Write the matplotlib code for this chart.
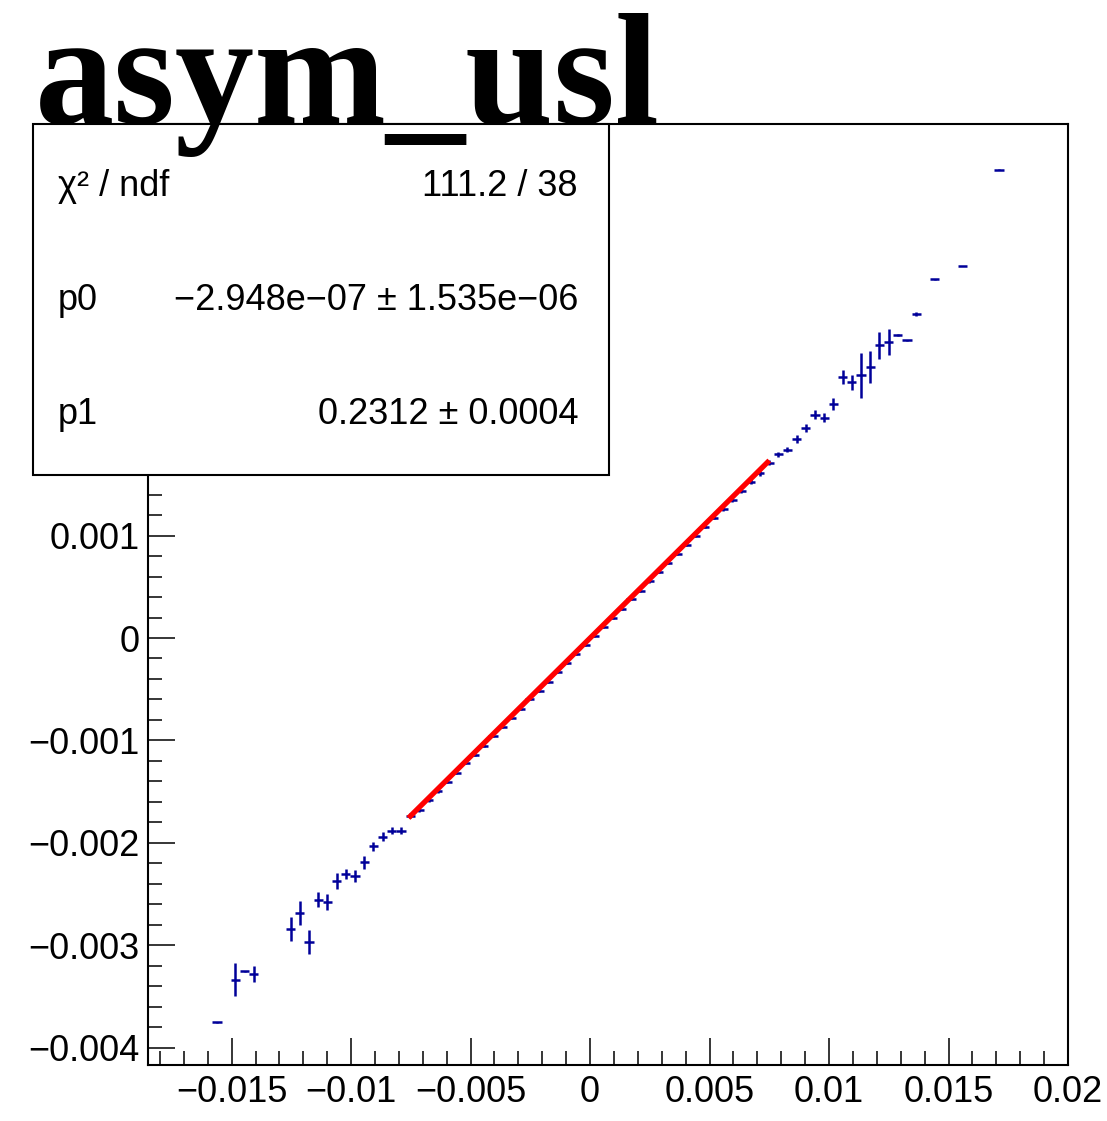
import matplotlib
matplotlib.use("Agg")
import matplotlib.pyplot as plt
from matplotlib.patches import Rectangle
from matplotlib.ticker import MultipleLocator, FuncFormatter

# profile bins (bin centres), mean values and errors
bin_x = [-0.0156125, -0.0148425, -0.0144575, -0.0140725, -0.0125325, -0.0121475,
         -0.0117625, -0.0113775, -0.0109925, -0.0106075, -0.0102225, -0.0098375,
         -0.0094525, -0.0090675, -0.0086825, -0.0082975, -0.0079125,
         -0.0075275, -0.0071425, -0.0067575, -0.0063725, -0.0059875, -0.0056025,
         -0.0052175, -0.0048325, -0.0044475, -0.0040625, -0.0036775, -0.0032925,
         -0.0029075, -0.0025225, -0.0021375, -0.0017525, -0.0013675, -0.0009825,
         -0.0005975, -0.0002125, 0.0001725, 0.0005575, 0.0009425, 0.0013275,
         0.0017125, 0.0020975, 0.0024825, 0.0028675, 0.0032525, 0.0036375,
         0.0040225, 0.0044075, 0.0047925, 0.0051775, 0.0055625, 0.0059475,
         0.0063325, 0.0067175, 0.0071025, 0.0074875,
         0.0078725, 0.0082575, 0.0086425, 0.0090275, 0.0094125, 0.0097975,
         0.0101825, 0.0105675, 0.0109525, 0.0113375, 0.0117225, 0.0121075,
         0.0124925, 0.0128775, 0.0132625, 0.0136475, 0.0144175, 0.0155725,
         0.0171125]
prof_y = [-0.003753, -0.003337, -0.003256, -0.003281, -0.002842, -0.002686,
          -0.002973, -0.002556, -0.002582, -0.002371, -0.002305, -0.002322,
          -0.002192, -0.002036, -0.001939, -0.001880, -0.001880,
          -0.001735, -0.001675, -0.001585, -0.001497, -0.001402, -0.001318,
          -0.001222, -0.001140, -0.001050, -0.000958, -0.000872, -0.000780,
          -0.000695, -0.000600, -0.000515, -0.000425, -0.000335, -0.000248,
          -0.000158, -0.000068, 0.000020, 0.000110, 0.000198, 0.000285,
          0.000378, 0.000462, 0.000552, 0.000645, 0.000730, 0.000822,
          0.000908, 0.000998, 0.001088, 0.001176, 0.001262, 0.001352,
          0.001440, 0.001528, 0.001607, 0.001710,
          0.001795, 0.001841, 0.001941, 0.002052, 0.002182, 0.002153,
          0.002283, 0.002550, 0.002500, 0.002566, 0.002647, 0.002859,
          0.002891, 0.002963, 0.002907, 0.003161, 0.003502, 0.003632,
          0.004573]
prof_err = [0.000003, 0.000163, 0.000005, 0.000076, 0.000117, 0.000117,
            0.000117, 0.000073, 0.000078, 0.000078, 0.000049, 0.000059,
            0.000068, 0.000044, 0.000044, 0.000030, 0.000030,
            0.000025, 0.000020, 0.000018, 0.000016, 0.000015, 0.000014,
            0.000013, 0.000012, 0.000012, 0.000011, 0.000010, 0.000010,
            0.000010, 0.000010, 0.000010, 0.000010, 0.000010, 0.000010,
            0.000010, 0.000010, 0.000010, 0.000010, 0.000010, 0.000010,
            0.000010, 0.000011, 0.000011, 0.000012, 0.000012, 0.000013,
            0.000014, 0.000015, 0.000016, 0.000018, 0.000020, 0.000020,
            0.000022, 0.000024, 0.000025, 0.000025,
            0.000025, 0.000025, 0.000040, 0.000040, 0.000040, 0.000040,
            0.000058, 0.000065, 0.000073, 0.000220, 0.000155, 0.000130,
            0.000130, 0.000010, 0.000005, 0.000020, 0.000003, 0.000003,
            0.000003]
half_bin = 0.0001925

# fit result (pol1)
fit_range = [-0.0076, 0.0075]
p0 = -2.948e-07
p1 = 0.2312
stat_labels = ["\u03c7\u00b2 / ndf", "p0", "p1"]
stat_values = ["111.2 / 38", "\u22122.948e\u221207 \u00b1 1.535e\u221206", "0.2312 \u00b1 0.0004"]

W, H = 1107, 1121
fig = plt.figure(figsize=(W / 100, H / 100), dpi=100)
ax = fig.add_axes([148 / W, 1 - 1065 / H, 920 / W, 941 / H])

ax.errorbar(bin_x, prof_y, xerr=half_bin, yerr=prof_err, fmt="none",
            ecolor="#000099", elinewidth=1.8, capsize=0, zorder=2)
fx = fit_range
fy = [p0 + p1 * v for v in fx]
ax.plot(fx, fy, color="#ff0000", lw=3.8, zorder=3, solid_capstyle="butt")

ax.set_xlim(-0.0185, 0.02)
ax.set_ylim(-0.00417, 0.00502)

def fmt(v, pos):
    s = "%g" % round(v, 6)
    if s in ("-0", "0.0"):
        s = "0"
    return s.replace("-", "\u2212")

def yfmt(v, pos):
    # labels above 0.0015 sit under the stats box
    if v > 0.0015:
        return ""
    return fmt(v, pos)

ax.xaxis.set_major_locator(MultipleLocator(0.005))
ax.xaxis.set_minor_locator(MultipleLocator(0.001))
ax.yaxis.set_major_locator(MultipleLocator(0.001))
ax.yaxis.set_minor_locator(MultipleLocator(0.0002))
ax.xaxis.set_major_formatter(FuncFormatter(fmt))
ax.yaxis.set_major_formatter(FuncFormatter(yfmt))
ax.tick_params(which="both", direction="in", top=False, right=False, width=1.1,
               labelsize=26, colors="black")
ax.tick_params(which="major", length=19.5)
ax.tick_params(which="minor", length=10)
ax.tick_params(axis="x", pad=7)
ax.tick_params(axis="y", pad=6)
for lab in ax.get_xticklabels() + ax.get_yticklabels():
    lab.set_family(["Liberation Sans", "DejaVu Sans"])
for sp in ax.spines.values():
    sp.set_linewidth(1.5)

# stats box
bx0, bx1, by0, by1 = 33 / W, 609 / W, 1 - 475 / H, 1 - 124 / H
fig.add_artist(Rectangle((bx0, by0), bx1 - bx0, by1 - by0, transform=fig.transFigure,
                         facecolor="white", edgecolor="black", lw=1.5, zorder=5))
rows_y = [1 - 186 / H, 1 - 300 / H, 1 - 415 / H]
for lab, val, yy in zip(stat_labels, stat_values, rows_y):
    fig.text(58 / W, yy, lab, ha="left", va="center", fontsize=26,
             family=["Liberation Sans", "DejaVu Sans"], zorder=6)
    fig.text(578 / W, yy, val, ha="right", va="center", fontsize=26,
             family=["Liberation Sans", "DejaVu Sans"], zorder=6)

fig.text(35 / W, 1 - 123 / H, "asym_usl", ha="left", va="baseline", fontsize=114,
         family="Liberation Serif", weight="bold", zorder=7)

fig.savefig("out.png", dpi=100)
